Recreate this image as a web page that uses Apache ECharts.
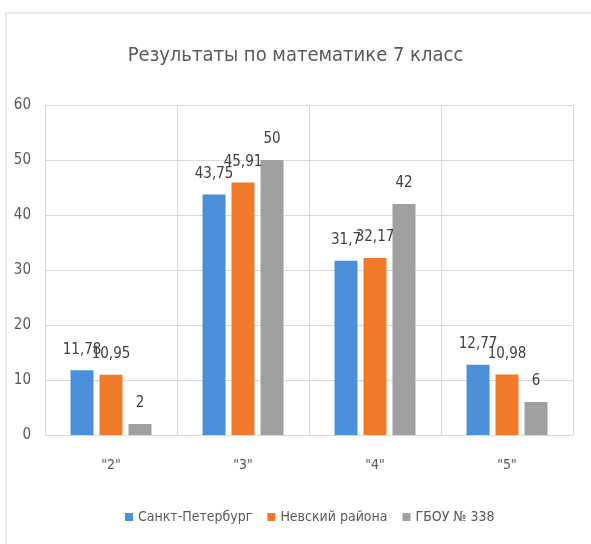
<!DOCTYPE html>
<html>
<head>
<meta charset="utf-8">
<script src="https://cdn.jsdelivr.net/npm/echarts@6/dist/echarts.min.js"></script>
<style>
html,body{margin:0;padding:0;background:#fff;}
#c{width:591px;height:544px;}
</style>
</head>
<body>
<div id="c"></div>
<script>
var categories = ['"2"', '"3"', '"4"', '"5"'];
var seriesNames = ['Санкт-Петербург', 'Невский района', 'ГБОУ № 338'];
var spb = [11.78, 43.75, 31.7, 12.77];
var nevsky = [10.95, 45.91, 32.17, 10.98];
var school = [2, 50, 42, 6];
var yTicks = [0, 10, 20, 30, 40, 50, 60];
var colors = ['#4a8fd8', '#f07a2a', '#a0a0a0'];

var FONT = "DejaVu Sans Condensed";
var chart = echarts.init(document.getElementById('c'), null, {renderer: 'canvas'});
function mk(name, data, color) {
  return {
    name: name, type: 'bar', data: data, barWidth: 23, barGap: '26%',
    itemStyle: {color: color},
    label: {show: true, position: 'top', distance: 13, color: '#404040', fontSize: 15, fontFamily: FONT,
      formatter: function (p) { return String(p.value).replace('.', ','); }}
  };
}
chart.setOption({
  animation: false,
  title: {text: 'Результаты по математике 7 класс', left: 'center', top: 41,
    textStyle: {fontSize: 20, fontWeight: 'normal', color: '#595959', fontFamily: FONT}},
  graphic: [
    {type: 'line', shape: {x1: 6, y1: 13, x2: 591, y2: 13}, style: {stroke: '#d0d0d0', lineWidth: 1}},
    {type: 'line', shape: {x1: 6, y1: 13, x2: 6, y2: 544}, style: {stroke: '#d0d0d0', lineWidth: 1}}
  ],
  legend: {data: seriesNames, bottom: 15, left: 120, itemWidth: 8, itemHeight: 8, itemGap: 15,
    icon: 'rect', textStyle: {fontSize: 14, color: '#595959', fontFamily: FONT}},
  grid: {left: 45, right: 18, top: 105, bottom: 109},
  xAxis: {type: 'category', data: categories,
    axisLine: {lineStyle: {color: '#d9d9d9'}}, axisTick: {show: false},
    splitLine: {show: true, lineStyle: {color: '#d9d9d9'}},
    axisLabel: {color: '#595959', fontSize: 14, fontFamily: FONT, margin: 23}},
  yAxis: {type: 'value', min: 0, max: 60, interval: 10,
    axisLine: {show: false}, axisTick: {show: false},
    splitLine: {lineStyle: {color: '#d9d9d9'}},
    axisLabel: {color: '#595959', fontSize: 15, fontFamily: FONT, margin: 14}},
  series: [mk(seriesNames[0], spb, colors[0]), mk(seriesNames[1], nevsky, colors[1]), mk(seriesNames[2], school, colors[2])]
});
</script>
</body>
</html>
